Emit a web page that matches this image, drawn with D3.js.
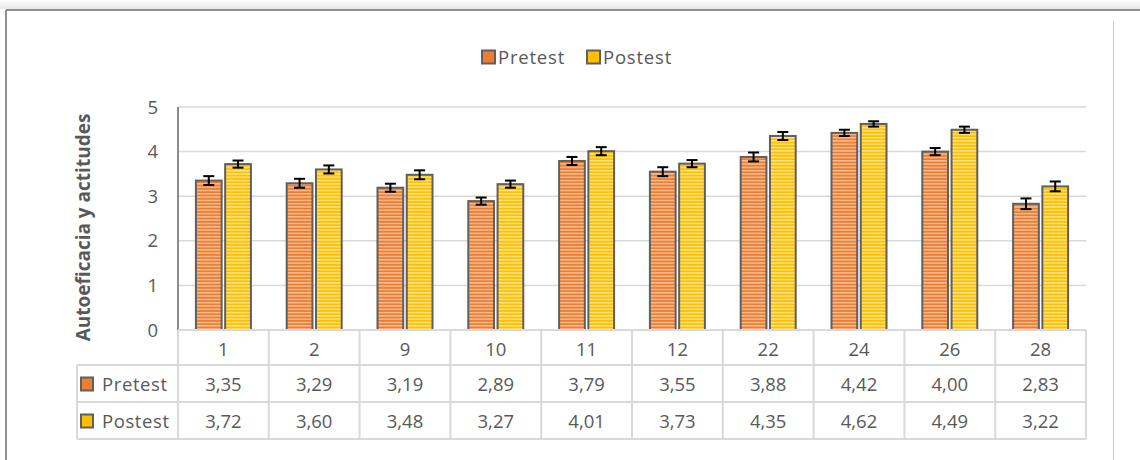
<!DOCTYPE html>
<html><head><meta charset="utf-8">
<script src="https://cdn.jsdelivr.net/npm/d3@7"></script>
<style>html,body{margin:0;padding:0;background:#fff;}svg{display:block;}</style>
</head><body>
<svg id="chart" width="1140" height="460"></svg>
<script>
const categories = ["1","2","9","10","11","12","22","24","26","28"];
const seriesNames = ["Pretest","Postest"];
const pretest = [3.35,3.29,3.19,2.89,3.79,3.55,3.88,4.42,4.00,2.83];
const postest = [3.72,3.60,3.48,3.27,4.01,3.73,4.35,4.62,4.49,3.22];
const pretestErr = [0.10,0.10,0.09,0.08,0.09,0.10,0.10,0.07,0.08,0.12];
const postestErr = [0.08,0.09,0.10,0.08,0.09,0.08,0.09,0.06,0.07,0.11];
const yTicks = [0,1,2,3,4,5];
const yLabel = "Autoeficacia y actitudes";

(function(){
const svg = d3.select("#chart");
const FONT = "'Open Sans', 'Noto Sans', sans-serif";
const FS = 18.5;
const textColor = "#595959";
const colors = {Pretest:{base:"#ED7D31", light:"#F8C6A2"}, Postest:{base:"#FFC000", light:"#FFE79A"}};

const defs = svg.append("defs");
seriesNames.forEach(s => {
  const p = defs.append("pattern").attr("id","pat-"+s).attr("patternUnits","userSpaceOnUse")
    .attr("width",6).attr("height",3.3);
  p.append("rect").attr("width",6).attr("height",3.3).attr("fill",colors[s].base);
  p.append("rect").attr("y",1.7).attr("width",6).attr("height",1.3).attr("fill",colors[s].light);
});
const shadow = defs.append("linearGradient").attr("id","shadowTop").attr("x1",0).attr("y1",0).attr("x2",0).attr("y2",1);
shadow.append("stop").attr("offset","0%").attr("stop-color","#fff");
shadow.append("stop").attr("offset","100%").attr("stop-color","#e6e6e6");

svg.append("rect").attr("x",0).attr("y",0).attr("width",1140).attr("height",9).attr("fill","url(#shadowTop)");
svg.append("line").attr("x1",6).attr("x2",1140).attr("y1",10).attr("y2",10).attr("stroke","#6b6b6b").attr("stroke-width",1.5);
svg.append("line").attr("x1",6).attr("x2",6).attr("y1",10).attr("y2",460).attr("stroke","#6b6b6b").attr("stroke-width",1.5);
svg.append("line").attr("x1",1113.5).attr("x2",1113.5).attr("y1",21).attr("y2",460).attr("stroke","#c8c8c8").attr("stroke-width",1);

const pL = 178, pR = 1086, pT = 107, pB = 330;
const x = d3.scaleBand().domain(categories).range([pL,pR]);
const xs = d3.scaleBand().domain(seriesNames).range([x.bandwidth()/2-27.5, x.bandwidth()/2+27.5]).paddingInner(0.12);
const y = d3.scaleLinear().domain([0,5]).range([pB, pT]);

svg.append("g").selectAll("line").data(yTicks.filter(t=>t>0)).join("line")
  .attr("x1",pL).attr("x2",pR).attr("y1",d=>y(d)).attr("y2",d=>y(d))
  .attr("stroke","#d9d9d9").attr("stroke-width",1.5);

svg.append("g").selectAll("text").data(yTicks).join("text")
  .attr("x",158).attr("y",d=>y(d)).attr("dy","0.36em").attr("text-anchor","end")
  .attr("font-family",FONT).attr("font-size",FS).attr("fill",textColor).text(d=>d);

svg.append("text").attr("transform",`translate(90,${(pT+pB)/2+9}) rotate(-90)`)
  .attr("text-anchor","middle").attr("font-family",FONT).attr("font-size",19).attr("font-weight","bold")
  .attr("fill",textColor).text(yLabel);

const data = [];
categories.forEach((c,i)=>{
  data.push({c, s:"Pretest", v:pretest[i], e:pretestErr[i]});
  data.push({c, s:"Postest", v:postest[i], e:postestErr[i]});
});
svg.append("g").selectAll("rect").data(data).join("rect")
  .attr("x",d=>x(d.c)+xs(d.s)).attr("width",xs.bandwidth())
  .attr("y",d=>y(d.v)).attr("height",d=>y(0)-y(d.v))
  .attr("fill",d=>`url(#pat-${d.s})`).attr("stroke","#5f5f5f").attr("stroke-width",2);

const eg = svg.append("g").attr("stroke","#000").attr("stroke-width",2);
data.forEach(d=>{
  const cx = x(d.c)+xs(d.s)+xs.bandwidth()/2;
  eg.append("line").attr("x1",cx).attr("x2",cx).attr("y1",y(d.v+d.e)).attr("y2",y(d.v-d.e));
  eg.append("line").attr("x1",cx-5.5).attr("x2",cx+5.5).attr("y1",y(d.v+d.e)).attr("y2",y(d.v+d.e));
  eg.append("line").attr("x1",cx-5.5).attr("x2",cx+5.5).attr("y1",y(d.v-d.e)).attr("y2",y(d.v-d.e));
});

svg.append("line").attr("x1",pL).attr("x2",pL).attr("y1",pT).attr("y2",pB).attr("stroke","#8c8c8c").attr("stroke-width",2);

const rowY = [330, 365, 402, 439];
const tg = svg.append("g").attr("stroke","#d9d9d9").attr("stroke-width",2).attr("fill","none");
tg.append("line").attr("x1",pL).attr("x2",pR).attr("y1",rowY[0]).attr("y2",rowY[0]);
[1,2,3].forEach(i=>tg.append("line").attr("x1",77).attr("x2",pR).attr("y1",rowY[i]).attr("y2",rowY[i]));
tg.append("line").attr("x1",77).attr("x2",77).attr("y1",rowY[1]).attr("y2",rowY[3]);
categories.forEach(c=>tg.append("line").attr("x1",x(c)).attr("x2",x(c)).attr("y1",rowY[0]).attr("y2",rowY[3]));
tg.append("line").attr("x1",pR).attr("x2",pR).attr("y1",rowY[0]).attr("y2",rowY[3]);

svg.append("g").selectAll("text").data(categories).join("text")
  .attr("x",c=>x(c)+x.bandwidth()/2).attr("y",(rowY[0]+rowY[1])/2+1.5).attr("dy","0.36em")
  .attr("text-anchor","middle").attr("font-family",FONT).attr("font-size",FS).attr("fill",textColor).text(c=>c);

const fmt = v => v.toFixed(2).replace(".",",");
[pretest, postest].forEach((arr,ri)=>{
  const cy = (rowY[ri+1]+rowY[ri+2])/2 + 0.5;
  svg.append("g").selectAll("text").data(arr).join("text")
    .attr("x",(v,i)=>x(categories[i])+x.bandwidth()/2).attr("y",cy).attr("dy","0.36em")
    .attr("text-anchor","middle").attr("font-family",FONT).attr("font-size",FS).attr("fill",textColor).text(v=>fmt(v));
  const s = seriesNames[ri];
  svg.append("rect").attr("x",81).attr("y",cy-6.5).attr("width",12).attr("height",13)
    .attr("fill",colors[s].base).attr("stroke","#5f5f5f").attr("stroke-width",2);
  svg.append("text").attr("x",102).attr("y",cy).attr("dy","0.36em").attr("font-family",FONT)
    .attr("font-size",FS).attr("letter-spacing",0.6).attr("fill",textColor).text(s);
});

const legX = [482, 587];
seriesNames.forEach((s,i)=>{
  svg.append("rect").attr("x",legX[i]).attr("y",50.5).attr("width",13).attr("height",13)
    .attr("fill",colors[s].base).attr("stroke","#5f5f5f").attr("stroke-width",2);
  svg.append("text").attr("x",legX[i]+16).attr("y",57).attr("dy","0.36em").attr("font-family",FONT)
    .attr("font-size",FS).attr("letter-spacing",0.8).attr("fill",textColor).text(s);
});
})();
</script>
</body></html>
